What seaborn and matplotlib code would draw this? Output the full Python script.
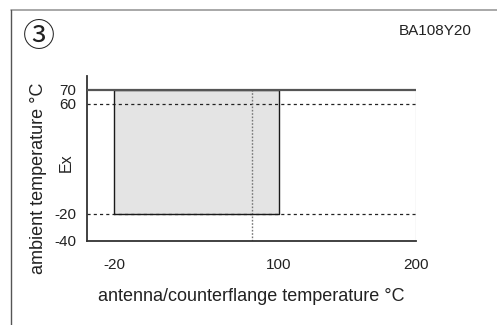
import matplotlib
matplotlib.use("Agg")
import matplotlib.pyplot as plt
import seaborn as sns
import pandas as pd

# Operating window: antenna/counterflange temperature vs ambient temperature
antenna_range = [-20, 100]
ambient_range = [-20, 70]
ex_ambient_max = 60
ex_antenna_max = 80
x_span = [-40, 200]
y_span = [-40, 80]
x_ticks = [-20, 100, 200]
y_ticks = [-40, -20, 60, 70]

sns.set_theme(style="white")
plt.rcParams["font.family"] = ["Liberation Sans", "DejaVu Sans"]

fig = plt.figure(figsize=(4.97, 3.25), dpi=100)
ax = fig.add_axes([87 / 497, 84 / 325, 329 / 497, 165 / 325])

# Shaded permissible region
box = pd.DataFrame({
    "x": [antenna_range[0], antenna_range[1], antenna_range[1], antenna_range[0], antenna_range[0]],
    "y": [ambient_range[0], ambient_range[0], ambient_range[1], ambient_range[1], ambient_range[0]],
})
ax.fill_between(antenna_range, ambient_range[0], ambient_range[1],
                color="#e4e4e4", lw=0, zorder=1)

# Reference lines
ax.axhline(ambient_range[0], color="#222222", lw=0.9, ls=(0, (2.5, 2.5)), zorder=2)
ax.axhline(ex_ambient_max, color="#222222", lw=0.9, ls=(0, (2.5, 2.5)), zorder=2)
ax.plot([ex_antenna_max, ex_antenna_max], [y_span[0], ambient_range[1]],
        color="#777777", lw=1.0, ls=(0, (1.2, 1.2)), zorder=2)
ax.plot([x_span[1], x_span[1]], [y_span[0], ambient_range[1]],
        color="#cccccc", lw=0.9, zorder=2)

sns.lineplot(data=box, x="x", y="y", sort=False, estimator=None,
             color="#1a1a1a", lw=1.0, ax=ax, zorder=3)
ax.axhline(ambient_range[1], color="#555555", lw=1.6, zorder=4, xmax=1.003)

ax.set_xlim(*x_span)
ax.set_ylim(*y_span)
ax.set_xticks(x_ticks)
ax.set_yticks(y_ticks)
ax.set_xticklabels([str(v) for v in x_ticks], fontsize=11, color="#222222")
ax.set_yticklabels([str(v) for v in y_ticks], fontsize=11, color="#222222")
ax.tick_params(axis="x", length=0, pad=12)
ax.tick_params(axis="y", length=0, pad=8)
ax.set_xlabel("antenna/counterflange temperature °C", fontsize=13,
              color="#222222", labelpad=12)
ax.set_ylabel("")
for side in ["top", "right"]:
    ax.spines[side].set_visible(False)
for side in ["left", "bottom"]:
    ax.spines[side].set_color("#333333")
    ax.spines[side].set_linewidth(1.3)

fig.text(39 / 497, 1 - 178 / 325, "ambient temperature °C", rotation=90,
         ha="center", va="center", fontsize=13, color="#222222")
fig.text(66 / 497, 1 - 163 / 325, "Ex", rotation=90,
         ha="center", va="center", fontsize=11.5, color="#222222")

fig.text(39 / 497, 1 - 37 / 325, "③", ha="center", va="center", fontsize=23,
         color="#222222", family=["Noto Sans CJK JP", "DejaVu Sans"])
fig.text(435 / 497, 1 - 31 / 325, "BA108Y20", ha="center", va="center",
         fontsize=11, color="#222222")

# Page frame
fig.add_artist(plt.Line2D([11 / 497, 1], [1 - 10 / 325, 1 - 10 / 325],
                          color="#999999", lw=1.2, transform=fig.transFigure))
fig.add_artist(plt.Line2D([11 / 497, 11 / 497], [0, 1 - 10 / 325],
                          color="#555555", lw=1.0, transform=fig.transFigure))

fig.savefig("out.png", dpi=100)
